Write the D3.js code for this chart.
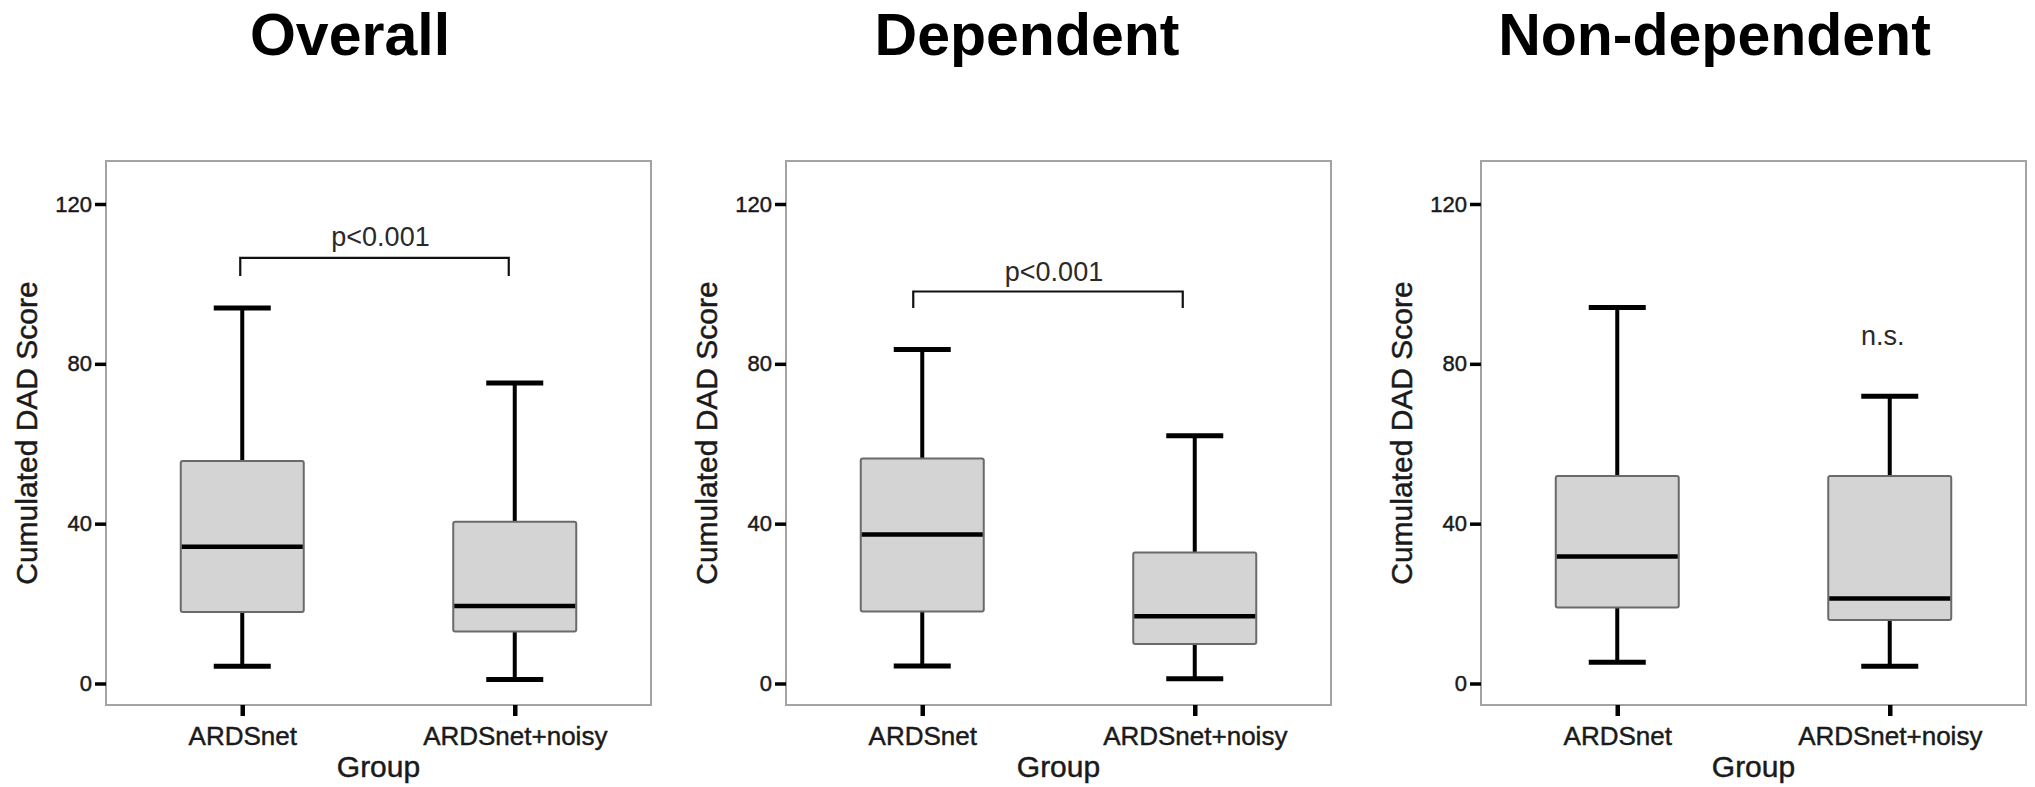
<!DOCTYPE html>
<html>
<head>
<meta charset="utf-8">
<script src="https://cdn.jsdelivr.net/npm/d3@7"></script>
<style>
  html, body { margin: 0; padding: 0; background: #fff; }
  svg { display: block; font-family: "Liberation Sans", Arial, sans-serif; }
  .soft { stroke: #1a1a1a; stroke-width: 0.45px; paint-order: stroke; }
</style>
</head>
<body>
<svg id="chart" width="2035" height="787"></svg>
<script>
// ---------------- DATA ----------------
const panelTitles = ["Overall", "Dependent", "Non-dependent"];
const categories = ["ARDSnet", "ARDSnet+noisy"];
const yTicks = [0, 40, 80, 120];
const yAxisTitle = "Cumulated DAD Score";
const xAxisTitle = "Group";
// five-number summaries per panel: [min, q1, median, q3, max]
const overallStats = [
  [4.3, 17.9, 34.2, 55.7, 94.0],
  [1.0, 13.0, 19.4, 40.5, 75.2]
];
const dependentStats = [
  [4.4, 18.0, 37.3, 56.3, 83.6],
  [1.2, 9.9, 16.8, 32.8, 62.0]
];
const nonDependentStats = [
  [5.3, 19.0, 31.8, 51.9, 94.1],
  [4.3, 15.9, 21.3, 51.9, 71.9]
];
// significance annotations: label, bracket top value, bracket leg value, label baseline value
const annotationLabels = ["p<0.001", "p<0.001", "n.s."];
const bracketTops = [106.5, 98.1, null];
const bracketLegs = [102.0, 94.0, null];
const labelValues = [109.6, 100.7, 84.6];

// ---------------- LAYOUT ----------------
const allStats = [overallStats, dependentStats, nonDependentStats];
const frameLefts = [106, 786, 1481];
const frameW = 545, frameTop = 161, frameBottom = 705;
const titleDx = [-28.5, -31.5, -39];
const bracketDx = [[-2, -6], [-9, -12], null];
const nsDx = -7;

const svg = d3.select("#chart");

const y = d3.scaleLinear().domain([-5.38, 130.76]).range([frameBottom, frameTop]);

allStats.forEach((stats, pi) => {
  const left = frameLefts[pi];
  const g = svg.append("g");
  const x = d3.scalePoint().domain(categories).range([left, left + frameW]).padding(0.5);

  // title
  g.append("text")
    .attr("x", left + frameW / 2 + titleDx[pi])
    .attr("y", 55)
    .attr("text-anchor", "middle")
    .attr("font-size", 59)
    .attr("font-weight", "bold")
    .attr("fill", "#000")
    .text(panelTitles[pi]);

  // frame
  g.append("rect")
    .attr("x", left).attr("y", frameTop)
    .attr("width", frameW).attr("height", frameBottom - frameTop)
    .attr("fill", "none").attr("stroke", "#a3a3a3").attr("stroke-width", 2);

  // y axis
  const ya = g.append("g")
    .attr("transform", `translate(${left},0)`)
    .call(d3.axisLeft(y).tickValues(yTicks).tickSize(11).tickPadding(3).tickFormat(d3.format("d")));
  ya.select(".domain").remove();
  ya.selectAll(".tick line").attr("stroke", "#000").attr("stroke-width", 3.5);
  ya.selectAll(".tick text")
    .attr("class", "soft")
    .attr("font-size", 22)
    .attr("fill", "#1a1a1a")
    .attr("font-family", "Liberation Sans, Arial, sans-serif");

  // x axis
  const xa = g.append("g")
    .attr("transform", `translate(0,${frameBottom})`)
    .call(d3.axisBottom(x).tickSize(11).tickPadding(3));
  xa.select(".domain").remove();
  xa.selectAll(".tick line").attr("stroke", "#000").attr("stroke-width", 4.5);
  xa.selectAll(".tick text")
    .attr("class", "soft")
    .attr("y", 40).attr("dy", 0)
    .attr("font-size", 26)
    .attr("fill", "#1a1a1a")
    .attr("font-family", "Liberation Sans, Arial, sans-serif");

  // axis titles
  const ymid = (frameTop + frameBottom) / 2;
  g.append("text")
    .attr("class", "soft")
    .attr("transform", `translate(${left - 69},${ymid}) rotate(-90)`)
    .attr("text-anchor", "middle")
    .attr("font-size", 30)
    .attr("fill", "#1a1a1a")
    .text(yAxisTitle);
  g.append("text")
    .attr("class", "soft")
    .attr("x", left + frameW / 2)
    .attr("y", 777)
    .attr("text-anchor", "middle")
    .attr("font-size", 30)
    .attr("fill", "#1a1a1a")
    .text(xAxisTitle);

  // boxes
  const boxW = 123, capW = 57;
  stats.forEach((s, ci) => {
    const cx = x(categories[ci]);
    const [mn, q1, md, q3, mx] = s;
    const bg = g.append("g");
    // whiskers
    bg.append("line").attr("x1", cx).attr("x2", cx).attr("y1", y(q3)).attr("y2", y(mx))
      .attr("stroke", "#000").attr("stroke-width", 4);
    bg.append("line").attr("x1", cx).attr("x2", cx).attr("y1", y(q1)).attr("y2", y(mn))
      .attr("stroke", "#000").attr("stroke-width", 4);
    // caps
    [mn, mx].forEach(v => {
      bg.append("line").attr("x1", cx - capW / 2).attr("x2", cx + capW / 2)
        .attr("y1", y(v)).attr("y2", y(v))
        .attr("stroke", "#000").attr("stroke-width", 5);
    });
    // box
    bg.append("rect")
      .attr("x", cx - boxW / 2).attr("y", y(q3))
      .attr("width", boxW).attr("height", y(q1) - y(q3))
      .attr("rx", 2)
      .attr("fill", "#d4d4d4").attr("stroke", "#6a6a6a").attr("stroke-width", 2);
    // median
    bg.append("line").attr("x1", cx - boxW / 2 + 1).attr("x2", cx + boxW / 2 - 1)
      .attr("y1", y(md)).attr("y2", y(md))
      .attr("stroke", "#000").attr("stroke-width", 4.5);
  });

  // annotation
  if (bracketTops[pi] !== null) {
    const x1 = x(categories[0]) + bracketDx[pi][0];
    const x2 = x(categories[1]) + bracketDx[pi][1];
    const path = d3.path();
    path.moveTo(x1, y(bracketLegs[pi]));
    path.lineTo(x1, y(bracketTops[pi]));
    path.lineTo(x2, y(bracketTops[pi]));
    path.lineTo(x2, y(bracketLegs[pi]));
    g.append("path").attr("d", path.toString())
      .attr("fill", "none").attr("stroke", "#111").attr("stroke-width", 2.2);
    g.append("text")
      .attr("x", (x1 + x2) / 2 + 6)
      .attr("y", y(labelValues[pi]))
      .attr("text-anchor", "middle")
      .attr("font-size", 27)
      .attr("fill", "#2a2a2a")
      .text(annotationLabels[pi]);
  } else {
    g.append("text")
      .attr("x", x(categories[1]) + nsDx)
      .attr("y", y(labelValues[pi]))
      .attr("text-anchor", "middle")
      .attr("font-size", 27)
      .attr("fill", "#2a2a2a")
      .text(annotationLabels[pi]);
  }
});
</script>
</body>
</html>
